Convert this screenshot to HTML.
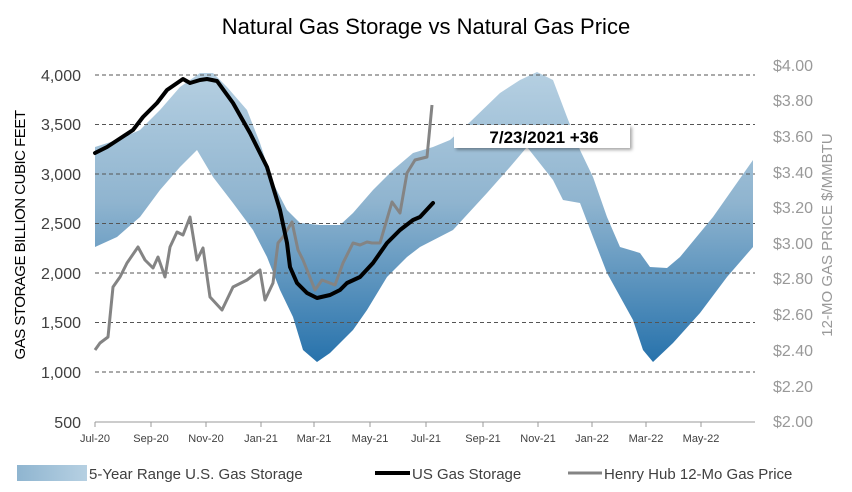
<!DOCTYPE html>
<html><head><meta charset="utf-8"><style>
body{margin:0;background:#fff;}
svg{display:block;font-family:"Liberation Sans",sans-serif;}
</style></head><body>
<svg width="852" height="492" viewBox="0 0 852 492">
<defs>
<linearGradient id="g" x1="0" y1="70" x2="0" y2="365" gradientUnits="userSpaceOnUse">
<stop offset="0" stop-color="#b6d0e2"/>
<stop offset="0.45" stop-color="#8fb4cf"/>
<stop offset="1" stop-color="#2571ab"/>
</linearGradient>
<linearGradient id="lg" x1="0" y1="0" x2="1" y2="0">
<stop offset="0" stop-color="#8fb5d0"/><stop offset="1" stop-color="#b6d0e2"/>
</linearGradient>
<filter id="sh" x="-10%" y="-20%" width="130%" height="160%"><feDropShadow dx="2" dy="2" stdDeviation="1.5" flood-color="#000" flood-opacity="0.35"/></filter>
</defs>
<text x="426" y="34" text-anchor="middle" font-size="22" fill="#000">Natural Gas Storage vs Natural Gas Price</text>
<!-- band -->
<path fill="url(#g)" d="M95,147 L117,140 140,130 160,110 180,87 200,73 213,73 227,87 247,110 260,143 273,183 287,210 300,223 320,225 340,225 353,213 373,190 393,170 413,153 433,147 450,140 470,122 500,93 520,80 537,72 553,80 567,117 580,150 593,177 607,217 620,247 640,253 650,267 667,268 680,257 713,217 753,160 L753,247 727,277 700,313 673,343 653,362 643,350 633,320 607,273 593,237 580,203 563,200 553,180 527,147 510,167 487,193 453,230 420,247 407,257 387,277 367,310 353,330 340,343 330,353 317,362 303,350 293,317 280,290 267,257 253,230 233,203 213,177 197,150 180,167 160,190 140,217 117,237 95,247 Z"/>
<!-- gridlines -->
<g stroke="#555" stroke-width="1" stroke-dasharray="4,3" fill="none">
<line x1="95" y1="75" x2="755" y2="75"/><line x1="95" y1="124.5" x2="755" y2="124.5"/>
<line x1="95" y1="174" x2="755" y2="174"/><line x1="95" y1="223.5" x2="755" y2="223.5"/>
<line x1="95" y1="273" x2="755" y2="273"/><line x1="95" y1="322.5" x2="755" y2="322.5"/>
<line x1="95" y1="372" x2="755" y2="372"/>
</g>
<line x1="95" y1="422" x2="755" y2="422" stroke="#999" stroke-width="1"/>
<g stroke="#999" stroke-width="1">
<line x1="95" y1="422" x2="95" y2="427"/><line x1="151" y1="422" x2="151" y2="427"/><line x1="206" y1="422" x2="206" y2="427"/><line x1="261" y1="422" x2="261" y2="427"/><line x1="314" y1="422" x2="314" y2="427"/><line x1="370" y1="422" x2="370" y2="427"/><line x1="426" y1="422" x2="426" y2="427"/><line x1="483" y1="422" x2="483" y2="427"/><line x1="538" y1="422" x2="538" y2="427"/><line x1="592" y1="422" x2="592" y2="427"/><line x1="646" y1="422" x2="646" y2="427"/><line x1="701" y1="422" x2="701" y2="427"/>
</g>
<!-- price -->
<polyline fill="none" stroke="#848484" stroke-width="3" stroke-linejoin="round" points="95,350 100,343 108,337 113,287 120,277 127,263 138,247 145,260 153,268 158,257 165,277 170,247 177,232 183,235 190,217 197,260 203,248 210,297 222,310 233,287 247,280 260,270 265,300 273,283 278,243 283,237 292,222 298,250 303,260 315,290 322,280 335,285 343,263 353,243 360,245 367,242 372,243 380,243 392,202 400,213 407,173 415,160 427,157 432,105"/>
<!-- storage -->
<polyline fill="none" stroke="#000" stroke-width="4" stroke-linejoin="round" stroke-linecap="round" points="95,153 107,147 133,130 143,117 157,103 167,90 183,79 190,83 200,80 207,79 217,81 233,103 250,133 267,167 280,210 287,243 290,267 297,283 307,293 317,298 330,295 340,290 347,283 360,277 373,263 387,243 400,230 413,220 420,217 433,203"/>
<!-- callout -->
<rect x="454" y="125" width="176" height="23" fill="#fff" filter="url(#sh)"/>
<text x="544" y="143" text-anchor="middle" font-size="17" font-weight="bold" fill="#000">7/23/2021 +36</text>
<!-- left labels -->
<g font-size="16" fill="#404040" text-anchor="end">
<text x="81" y="81">4,000</text><text x="81" y="130">3,500</text><text x="81" y="180">3,000</text><text x="81" y="229">2,500</text><text x="81" y="279">2,000</text><text x="81" y="328">1,500</text><text x="81" y="378">1,000</text><text x="81" y="428">500</text>
</g>
<text transform="translate(25,235) rotate(-90)" text-anchor="middle" font-size="15" fill="#000" letter-spacing="-0.5">GAS STORAGE BILLION CUBIC FEET</text>
<!-- right labels -->
<g font-size="16" fill="#999">
<text x="773" y="71">$4.00</text><text x="773" y="106">$3.80</text><text x="773" y="142">$3.60</text><text x="773" y="178">$3.40</text><text x="773" y="213">$3.20</text><text x="773" y="249">$3.00</text><text x="773" y="284">$2.80</text><text x="773" y="320">$2.60</text><text x="773" y="356">$2.40</text><text x="773" y="392">$2.20</text><text x="773" y="427">$2.00</text>
</g>
<text transform="translate(832,235) rotate(-90)" text-anchor="middle" font-size="15" fill="#999">12-MO GAS PRICE $/MMBTU</text>
<!-- x labels -->
<g font-size="11" fill="#404040" text-anchor="middle">
<text x="95" y="442">Jul-20</text><text x="151" y="442">Sep-20</text><text x="206" y="442">Nov-20</text><text x="261" y="442">Jan-21</text><text x="314" y="442">Mar-21</text><text x="370" y="442">May-21</text><text x="426" y="442">Jul-21</text><text x="483" y="442">Sep-21</text><text x="538" y="442">Nov-21</text><text x="592" y="442">Jan-22</text><text x="646" y="442">Mar-22</text><text x="701" y="442">May-22</text>
</g>
<!-- legend -->
<rect x="17" y="465" width="70" height="16" fill="url(#lg)"/>
<text x="89" y="479" font-size="15" fill="#404040">5-Year Range U.S. Gas Storage</text>
<line x1="375" y1="473" x2="410" y2="473" stroke="#000" stroke-width="4"/>
<text x="412" y="479" font-size="15" fill="#404040">US Gas Storage</text>
<line x1="568" y1="473" x2="602" y2="473" stroke="#848484" stroke-width="3"/>
<text x="604" y="479" font-size="15" fill="#404040">Henry Hub 12-Mo Gas Price</text>
</svg>
</body></html>
